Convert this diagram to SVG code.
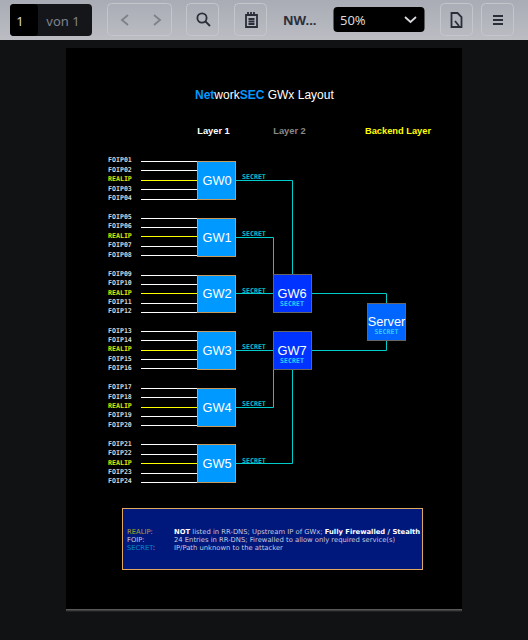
<svg xmlns="http://www.w3.org/2000/svg" width="528" height="640" viewBox="0 0 528 640">
<style>
text{font-family:"Liberation Sans","DejaVu Sans",sans-serif}
text.f,text.r,text.k,text.t{font-family:"DejaVu Sans Mono","Liberation Mono",monospace;font-size:6.6px;font-weight:bold}
.f{fill:#d8d8d8}.r{fill:#e8e800}.k{fill:#00c4c4}
.w{stroke:#fff;stroke-width:1;fill:none}.y{stroke:#ffff00;stroke-width:1;fill:none}
.c{stroke:#00cccc;stroke-width:1;fill:none}
.g{fill:#0099ff;stroke:#c79a5b;stroke-width:1}
.b{fill:#0033ff;stroke:#666;stroke-width:1}
.n{fill:#fff;font-size:12.800px;text-anchor:middle}
.t{fill:#33ccff;text-anchor:middle}
.h{font-size:9.300px;font-weight:bold;text-anchor:middle}
text.l{font-size:6.800px;font-family:"DejaVu Sans","Liberation Sans",sans-serif;fill:#c8c8dc}
.tb{fill:none;stroke:#c4c6cc;stroke-width:1}
.i{fill:none;stroke:#2a2e38;stroke-width:1.8}
</style>
<defs>
<linearGradient id="bar" x1="0" y1="0" x2="0" y2="1"><stop offset="0" stop-color="#a9acb5"/><stop offset="1" stop-color="#bcbdc3"/></linearGradient>
<linearGradient id="shadow" x1="0" y1="0" x2="0" y2="1"><stop offset="0" stop-color="#666"/><stop offset="1" stop-color="#111316"/></linearGradient>
</defs>
<rect width="528" height="640" fill="#101214"/>
<g id="toolbar">
<rect width="528" height="40" fill="url(#bar)"/>
<rect x="10" y="4" width="82" height="32" rx="4" fill="#14161a"/>
<rect x="10" y="4" width="28" height="32" rx="4" fill="#000"/>
<text x="20" y="26" font-size="13" fill="#d8dade" text-anchor="middle" style="font-family:'Noto Sans',sans-serif">1</text>
<text x="63" y="26" font-size="13" fill="#80848c" text-anchor="middle" style="font-family:'Noto Sans',sans-serif">von 1</text>
<rect class="tb" x="107.500" y="3.500" width="64" height="32" rx="4"/>
<path d="M128 15l-6 5 6 5M154 15l6 5-6 5" fill="none" stroke="#7d8189" stroke-width="1.8"/>
<rect class="tb" x="186.500" y="3.500" width="32" height="32" rx="4"/>
<circle cx="202" cy="18" r="4.6" class="i"/><path d="M205.500 21.500l4.500 4.500" class="i" stroke-width="2.400"/>
<rect class="tb" x="234.500" y="3.500" width="32" height="32" rx="4"/>
<path d="M246 15h11v12h-11z" class="i"/><path d="M248.500 19h6M248.500 21.500h6M248.500 24h6" class="i" stroke-width="1"/><path d="M248 12v3M251 12v3M254 12v3" class="i" stroke-width="1"/>
<text x="283" y="25" font-size="13" font-weight="bold" fill="#2b2f3a" style="font-family:'Noto Sans',sans-serif">NW...</text>
<rect x="333.500" y="7" width="91" height="25" rx="4" fill="#000"/>
<text x="340" y="25" font-size="13" fill="#d8dade" style="font-family:'Noto Sans',sans-serif">50%</text>
<path d="M405 17l5.500 5 5.500-5" fill="none" stroke="#d8dade" stroke-width="1.800"/>
<rect class="tb" x="440.500" y="3.500" width="32" height="32" rx="4"/>
<path d="M451.500 13h6l4 4v10h-10z" class="i"/><path d="M455 21l4 5" class="i"/>
<rect class="tb" x="481.500" y="3.500" width="32" height="32" rx="4"/>
<path d="M493 16h10M493 20h10M493 24h10" class="i" stroke-width="2"/>
</g>
<g id="page">
<rect x="66" y="609" width="396" height="3" fill="url(#shadow)"/>
<rect x="66" y="48" width="396" height="561" fill="#000"/>
<text x="195" y="99" font-size="12" fill="#fff"><tspan fill="#0099ff" font-weight="bold">Net</tspan>work<tspan fill="#0099ff" font-weight="bold">SEC</tspan> GWx Layout</text>
<text class="h" x="213.500" y="134" fill="#fff">Layer 1</text>
<text class="h" x="289.500" y="134" fill="#8a8a8a">Layer 2</text>
<text class="h" x="398" y="134" fill="#ffff00">Backend Layer</text>
</g>
<g id="connectors">
<path class="w" d="M141 161.500H197M141 170.500H197M141 189.500H197M141 199.500H197M141 218.500H197M141 227.500H197M141 246.500H197M141 255.500H197M141 275.500H197M141 284.500H197M141 303.500H197M141 312.500H197M141 331.500H197M141 340.500H197M141 359.500H197M141 368.500H197M141 388.500H197M141 397.500H197M141 416.500H197M141 425.500H197M141 444.500H197M141 454.500H197M141 473.500H197M141 482.500H197"/>
<path class="y" d="M141 180.500H197M141 236.500H197M141 293.500H197M141 350.500H197M141 407.500H197M141 463.500H197"/>
<path class="c" d="M236 180.500H292.500V274M236 237.500H273.500V274M236 293.500H273.500M236 350.500H273.500M273.500 369V407.500H236M292.500 369V463.500H236M312 293.500H386.500V303M312 350.500H386.500V341"/>
<text class="k" x="242" y="179">SECRET</text><text class="k" x="242" y="236">SECRET</text><text class="k" x="242" y="292.500">SECRET</text><text class="k" x="242" y="349">SECRET</text><text class="k" x="242" y="406">SECRET</text><text class="k" x="242" y="462.500">SECRET</text>
</g>
<g id="foip-labels">
<text class="f" x="108" y="162">FOIP01</text><text class="f" x="108" y="171.500">FOIP02</text><text class="r" x="108" y="180.500">REALIP</text><text class="f" x="108" y="190.500">FOIP03</text><text class="f" x="108" y="199.500">FOIP04</text>
<text class="f" x="108" y="219">FOIP05</text><text class="f" x="108" y="228">FOIP06</text><text class="r" x="108" y="237.500">REALIP</text><text class="f" x="108" y="247">FOIP07</text><text class="f" x="108" y="256.500">FOIP08</text>
<text class="f" x="108" y="276">FOIP09</text><text class="f" x="108" y="285">FOIP10</text><text class="r" x="108" y="294.500">REALIP</text><text class="f" x="108" y="304">FOIP11</text><text class="f" x="108" y="313">FOIP12</text>
<text class="f" x="108" y="332.500">FOIP13</text><text class="f" x="108" y="341.500">FOIP14</text><text class="r" x="108" y="351">REALIP</text><text class="f" x="108" y="360.500">FOIP15</text><text class="f" x="108" y="370">FOIP16</text>
<text class="f" x="108" y="389">FOIP17</text><text class="f" x="108" y="398.500">FOIP18</text><text class="r" x="108" y="408">REALIP</text><text class="f" x="108" y="417">FOIP19</text><text class="f" x="108" y="426.500">FOIP20</text>
<text class="f" x="108" y="446">FOIP21</text><text class="f" x="108" y="455">FOIP22</text><text class="r" x="108" y="465">REALIP</text><text class="f" x="108" y="474">FOIP23</text><text class="f" x="108" y="483">FOIP24</text>
</g>
<g id="GW0"><rect class="g" x="197.500" y="161.500" width="38" height="38"/><text class="n" x="217" y="185">GW0</text></g>
<g id="GW1"><rect class="g" x="197.500" y="218.500" width="38" height="38"/><text class="n" x="217" y="241.500">GW1</text></g>
<g id="GW2"><rect class="g" x="197.500" y="275.500" width="38" height="37"/><text class="n" x="217" y="298">GW2</text></g>
<g id="GW3"><rect class="g" x="197.500" y="331.500" width="38" height="38"/><text class="n" x="217" y="355">GW3</text></g>
<g id="GW4"><rect class="g" x="197.500" y="388.500" width="38" height="38"/><text class="n" x="217" y="412">GW4</text></g>
<g id="GW5"><rect class="g" x="197.500" y="444.500" width="38" height="38"/><text class="n" x="217" y="468">GW5</text></g>
<g id="GW6"><rect class="b" x="273.500" y="274.500" width="38" height="38"/><text class="n" x="292" y="298">GW6</text><text class="t" x="292" y="306">SECRET</text></g>
<g id="GW7"><rect class="b" x="273.500" y="331.500" width="38" height="38"/><text class="n" x="292" y="354.500">GW7</text><text class="t" x="292" y="362.500">SECRET</text></g>
<g id="Server"><rect x="367.500" y="303.500" width="38" height="37" fill="#0066ff" stroke="#666"/><text class="n" x="386.500" y="326">Server</text><text class="t" x="386.500" y="334">SECRET</text></g>
<g id="legend">
<rect x="122.500" y="508.500" width="300" height="61" fill="#00187c" stroke="#e0a860"/>
<text class="l" x="127" y="534"><tspan fill="#a8a820">REALIP</tspan>:</text>
<text class="l" x="174" y="534"><tspan fill="#fff" font-weight="bold">NOT</tspan> listed in RR-DNS; Upstream IP of GWx; <tspan fill="#fff" font-weight="bold">Fully Firewalled / Stealth</tspan></text>
<text class="l" x="127" y="542">FOIP:</text>
<text class="l" x="174" y="542">24 Entries in RR-DNS; Firewalled to allow only required service(s)</text>
<text class="l" x="127" y="550"><tspan fill="#0088c8">SECRET</tspan>:</text>
<text class="l" x="174" y="550">IP/Path unknown to the attacker</text>
</g>
</svg>
